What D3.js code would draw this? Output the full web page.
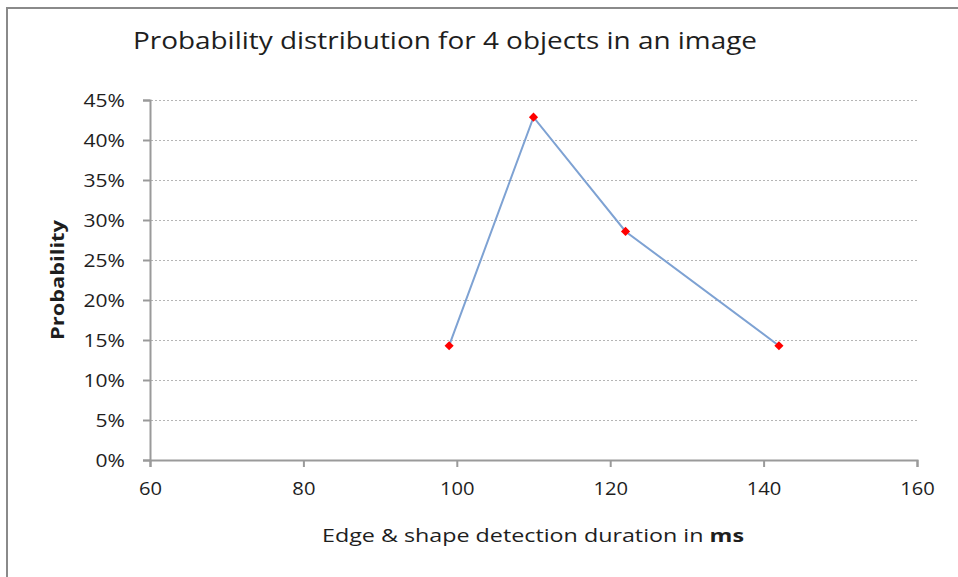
<!DOCTYPE html>
<html><head><meta charset="utf-8">
<script src="https://cdn.jsdelivr.net/npm/d3@7"></script>
<style>body{margin:0;background:#fff}svg{display:block}text{font-family:"Open Sans",Lato,sans-serif;fill:#1e1e1e}</style>
</head><body>
<svg id="c" width="958" height="577"></svg>
<script>
const durations = [99, 110, 122, 142];
const probabilities = [1/7, 3/7, 2/7, 1/7];
const xTicks = [60, 80, 100, 120, 140, 160];
const yTicks = [0, 0.05, 0.10, 0.15, 0.20, 0.25, 0.30, 0.35, 0.40, 0.45];
const titleText = "Probability distribution for 4 objects in an image";

const svg = d3.select("#c");
const L = 150, R = 917, T = 100, B = 460;
const x = d3.scaleLinear().domain([60, 160]).range([L, R]);
const y = d3.scaleLinear().domain([0, 0.45]).range([B, T]);

function fitWidth(sel, w) {
  sel.each(function () { this.setAttribute("textLength", w); this.setAttribute("lengthAdjust", "spacingAndGlyphs"); });
}
function stretch(sel, f) {
  sel.each(function () { const w = this.getComputedTextLength(); this.setAttribute("textLength", w * f); this.setAttribute("lengthAdjust", "spacingAndGlyphs"); });
}

// frame (top & left only visible)
svg.append("line").attr("x1", 6).attr("x2", 958).attr("y1", 8).attr("y2", 8).attr("stroke", "#8a8a8a").attr("stroke-width", 2);
svg.append("line").attr("x1", 7).attr("x2", 7).attr("y1", 7).attr("y2", 577).attr("stroke", "#8a8a8a").attr("stroke-width", 2);

const title = svg.append("text").attr("x", 133).attr("y", 49)
  .style("font-size", "24px").text(titleText);
fitWidth(title, 624);

// gridlines
svg.append("g").selectAll("line").data(yTicks.filter(d => d > 0)).join("line")
  .attr("x1", L + 1).attr("x2", R).attr("y1", d => Math.round(y(d)) + 0.5).attr("y2", d => Math.round(y(d)) + 0.5)
  .attr("stroke", "#b5b5b5").attr("stroke-dasharray", "2,2");

// axes
const ya = d3.axisLeft(y).tickValues(yTicks).tickFormat(d3.format(".0%")).tickSize(7).tickPadding(18);
const gy = svg.append("g").attr("transform", `translate(${L},0)`).call(ya);
const xa = d3.axisBottom(x).tickValues(xTicks).tickFormat(d3.format("d")).tickSize(7).tickPadding(15);
const gx = svg.append("g").attr("transform", `translate(0,${B})`).call(xa);
[gx, gy].forEach(g => {
  g.select(".domain").attr("stroke", "#9a9a9a").attr("stroke-width", 2);
  g.selectAll(".tick line").attr("stroke", "#9a9a9a").attr("stroke-width", 2);
  g.selectAll(".tick text").style("font-size", "18px").style("font-family", "'Open Sans',sans-serif").attr("fill", "#1e1e1e");
});
gy.selectAll(".tick text").attr("dy", "0.36em");
stretch(gy.selectAll(".tick text"), 1.17);
stretch(gx.selectAll(".tick text"), 1.12);

// line
const pts = durations.map((d, i) => [d, probabilities[i]]);
svg.append("path").datum(pts)
  .attr("d", d3.line().x(d => x(d[0])).y(d => y(d[1])))
  .attr("fill", "none").attr("stroke", "#7ea2d3").attr("stroke-width", 2);
svg.append("g").selectAll("path").data(pts).join("path")
  .attr("transform", d => `translate(${x(d[0])},${y(d[1])}) rotate(45)`)
  .attr("d", d3.symbol().type(d3.symbolSquare).size(42))
  .attr("fill", "#ff0000");

// axis titles
const yt = svg.append("text").attr("transform", "translate(64,280) rotate(-90)").attr("text-anchor", "middle")
  .style("font-size", "18px").style("font-weight", "bold").text("Probability");
fitWidth(yt, 120);
const xt = svg.append("text").attr("x", 322).attr("y", 542).style("font-size", "18px");
xt.append("tspan").text("Edge & shape detection duration in ");
xt.append("tspan").style("font-weight", "bold").text("ms");
fitWidth(xt, 422);
</script>
</body></html>
